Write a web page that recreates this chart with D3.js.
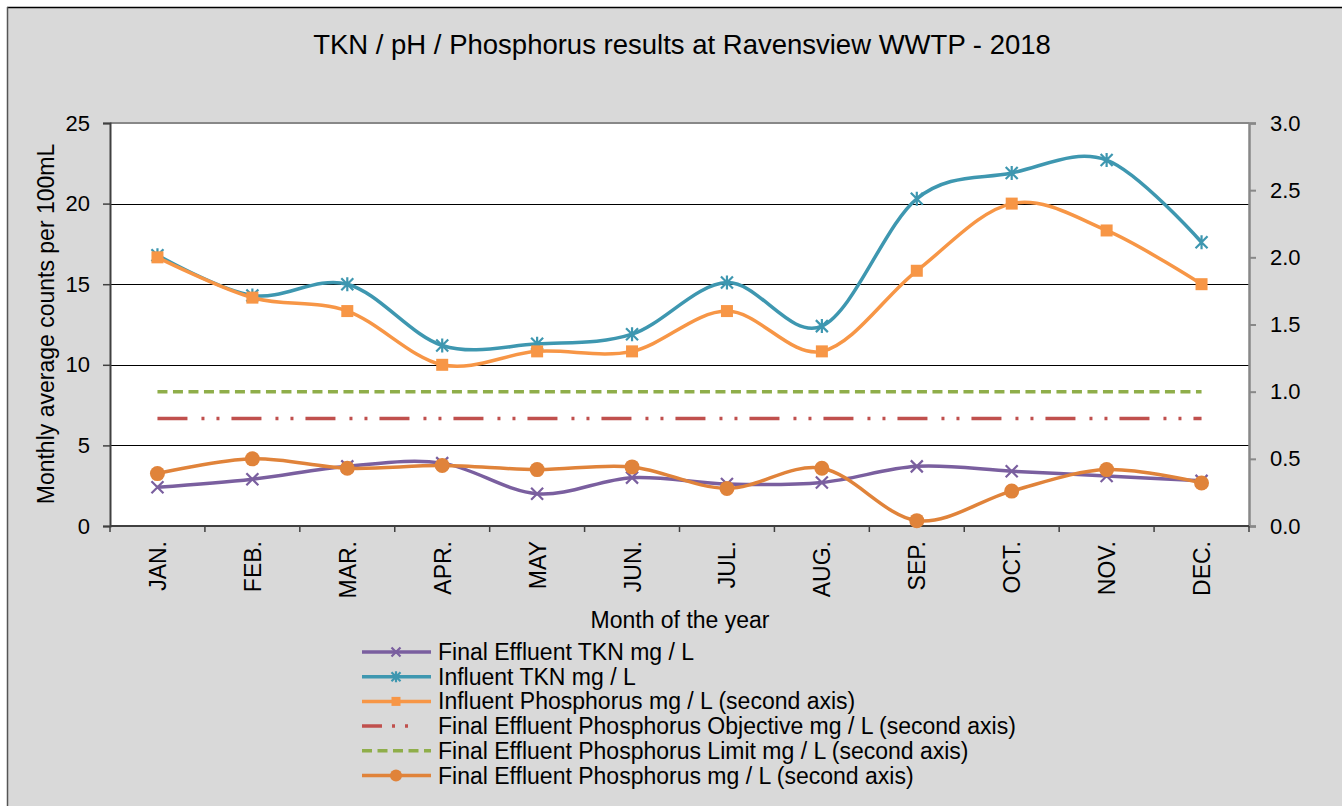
<!DOCTYPE html>
<html><head><meta charset="utf-8">
<script src="https://cdn.jsdelivr.net/npm/d3@7"></script>
<style>body{margin:0;background:#fff}svg{display:block}text{font-family:"Liberation Sans",Arial,sans-serif;fill:#000}</style>
</head><body>
<svg id="c" width="1342" height="806"></svg>
<script>
const months = ["JAN.","FEB.","MAR.","APR.","MAY","JUN.","JUL.","AUG.","SEP.","OCT.","NOV.","DEC."];
const finalEffluentTKN = [2.4,2.9,3.7,3.9,2.0,3.0,2.6,2.7,3.7,3.4,3.1,2.8];
const influentTKN = [16.8,14.3,15.0,11.2,11.3,11.9,15.1,12.4,20.3,21.9,22.7,17.6];
const influentP = [2.0,1.7,1.6,1.2,1.3,1.3,1.6,1.3,1.9,2.4,2.2,1.8];
const objectiveP = [0.8,0.8,0.8,0.8,0.8,0.8,0.8,0.8,0.8,0.8,0.8,0.8];
const limitP = [1.0,1.0,1.0,1.0,1.0,1.0,1.0,1.0,1.0,1.0,1.0,1.0];
const finalEffluentP = [0.39,0.50,0.43,0.45,0.42,0.44,0.28,0.43,0.04,0.26,0.42,0.32];
const leftTicks = [0,5,10,15,20,25];
const rightTicks = [0,0.5,1.0,1.5,2.0,2.5,3.0];

const svg = d3.select("#c");
svg.append("rect").attr("x",7).attr("y",7).attr("width",1342).attr("height",806).attr("fill","#d9d9d9");
svg.append("line").attr("x1",7).attr("x2",1342).attr("y1",7.5).attr("y2",7.5).attr("stroke","#000").attr("stroke-width",1.5);
svg.append("line").attr("x1",7.5).attr("x2",7.5).attr("y1",7).attr("y2",806).attr("stroke","#555").attr("stroke-width",1.5);

const L=110,R=1249,T=123,B=526;
const x = d3.scaleBand().domain(months).range([L,R]);
const xc = m => x(m)+x.bandwidth()/2;
const yL = d3.scaleLinear().domain([0,25]).range([B,T]);
const yR = d3.scaleLinear().domain([0,3]).range([B,T]);

svg.append("rect").attr("x",L).attr("y",T).attr("width",R-L).attr("height",B-T).attr("fill","#fff");
svg.append("g").selectAll("line").data(leftTicks.filter(d=>d>0&&d<25)).join("line")
  .attr("x1",L).attr("x2",R).attr("y1",d=>Math.round(yL(d))+0.5).attr("y2",d=>Math.round(yL(d))+0.5)
  .attr("stroke","#000").attr("stroke-width",1);
svg.append("line").attr("x1",L).attr("x2",R).attr("y1",T).attr("y2",T).attr("stroke","#888").attr("stroke-width",2);

const gl = svg.append("g").attr("transform",`translate(${L},0)`)
  .call(d3.axisLeft(yL).tickValues(leftTicks).tickSize(7).tickPadding(13).tickFormat(d3.format("d")));
gl.select(".domain").attr("stroke","#404040").attr("stroke-width",2);
gl.selectAll(".tick line").attr("stroke","#404040").attr("stroke-width",1.5);
gl.selectAll("text").style("font-size","22px").attr("fill","#000");
const gr = svg.append("g").attr("transform",`translate(${R},0)`)
  .call(d3.axisRight(yR).tickValues(rightTicks).tickSize(7).tickPadding(14).tickFormat(d3.format(".1f")));
gr.select(".domain").attr("stroke","#888").attr("stroke-width",2.5);
gr.selectAll(".tick line").attr("stroke","#888").attr("stroke-width",2);
gr.selectAll("text").style("font-size","22px").attr("fill","#000");
const gb = svg.append("g").attr("transform",`translate(0,${B})`);
gb.append("line").attr("x1",L).attr("x2",R).attr("stroke","#404040").attr("stroke-width",2);
const bounds = months.map(m=>x(m)).concat([R]);
gb.selectAll("line.t").data(bounds).join("line").attr("class","t")
  .attr("x1",d=>d).attr("x2",d=>d).attr("y1",0).attr("y2",6).attr("stroke","#404040").attr("stroke-width",1.5);
gb.selectAll("text").data(months).join("text")
  .attr("transform",d=>`translate(${xc(d)+8.5},${15}) rotate(-90)`)
  .attr("text-anchor","end").style("font-size","23px").text(d=>d);

svg.append("text").attr("x",682).attr("y",54).attr("text-anchor","middle").style("font-size","27.5px")
  .text("TKN / pH / Phosphorus results at Ravensview WWTP - 2018");
svg.append("text").attr("transform","translate(54,324) rotate(-90)").attr("text-anchor","middle").style("font-size","23px")
  .text("Monthly average counts per 100mL");
svg.append("text").attr("x",680).attr("y",628).attr("text-anchor","middle").style("font-size","23px").text("Month of the year");

const curve = d3.curveCardinal.tension(0);
const series = [
  {name:"Final Effluent TKN mg / L", data:finalEffluentTKN, y:yL, color:"#7a5f9f", w:3.5, marker:"x", smooth:true},
  {name:"Influent TKN mg / L", data:influentTKN, y:yL, color:"#3e97b0", w:3.5, marker:"star", smooth:true},
  {name:"Influent Phosphorus mg / L (second axis)", data:influentP, y:yR, color:"#f79646", w:3.5, marker:"square", smooth:true},
  {name:"Final Effluent Phosphorus Objective mg / L (second axis)", data:objectiveP, y:yR, color:"#c0504d", w:3.5, dash:"30,14,3,12,3,12", marker:null, smooth:false},
  {name:"Final Effluent Phosphorus Limit mg / L (second axis)", data:limitP, y:yR, color:"#8fae4a", w:3.5, dash:"10,5.5", marker:null, smooth:false},
  {name:"Final Effluent Phosphorus mg / L (second axis)", data:finalEffluentP, y:yR, color:"#e0833a", w:3.5, marker:"circle", smooth:true}
];
const drawOrder = [3,4,1,2,0,5];

function marker(g, type, color, cx, cy, s){
  if(type==="x"){
    const r=s;
    g.append("path").attr("d",`M${cx-r},${cy-r}L${cx+r},${cy+r}M${cx-r},${cy+r}L${cx+r},${cy-r}`)
      .attr("stroke",color).attr("stroke-width",2.2).attr("fill","none");
  } else if(type==="star"){
    const r=s;
    g.append("path").attr("d",`M${cx-r},${cy-r}L${cx+r},${cy+r}M${cx-r},${cy+r}L${cx+r},${cy-r}M${cx},${cy-r-1}L${cx},${cy+r+1}`)
      .attr("stroke",color).attr("stroke-width",2.2).attr("fill","none");
  } else if(type==="square"){
    g.append("rect").attr("x",cx-s).attr("y",cy-s).attr("width",2*s).attr("height",2*s).attr("fill",color);
  } else if(type==="circle"){
    g.append("circle").attr("cx",cx).attr("cy",cy).attr("r",s).attr("fill",color);
  }
}
const msize = {x:6, star:6, square:6, circle:7.5};

drawOrder.forEach(i=>{
  const s = series[i];
  const g = svg.append("g");
  const line = d3.line().x((d,j)=>xc(months[j])).y(d=>s.y(d));
  if(s.smooth) line.curve(curve);
  const p = g.append("path").datum(s.data).attr("d",line).attr("fill","none")
    .attr("stroke",s.color).attr("stroke-width",s.w).attr("stroke-linejoin","round");
  if(s.dash) p.attr("stroke-dasharray",s.dash);
  if(s.marker) s.data.forEach((d,j)=>marker(g,s.marker,s.color,xc(months[j]),s.y(d),msize[s.marker]));
});

const lg = svg.append("g");
series.forEach((s,i)=>{
  const yy = 652 + i*24.7;
  const l = lg.append("line").attr("x1",362).attr("x2",431).attr("y1",yy).attr("y2",yy)
    .attr("stroke",s.color).attr("stroke-width",3.5);
  if(s.dash) l.attr("stroke-dasharray", i===3 ? "20,10,3,10,3,60" : "10,5.5");
  if(s.marker) marker(lg,s.marker,s.color,396,yy,s.marker==="circle"?6:4.5);
  lg.append("text").attr("x",438).attr("y",yy+8).style("font-size","23px").text(s.name);
});
</script>
</body></html>
